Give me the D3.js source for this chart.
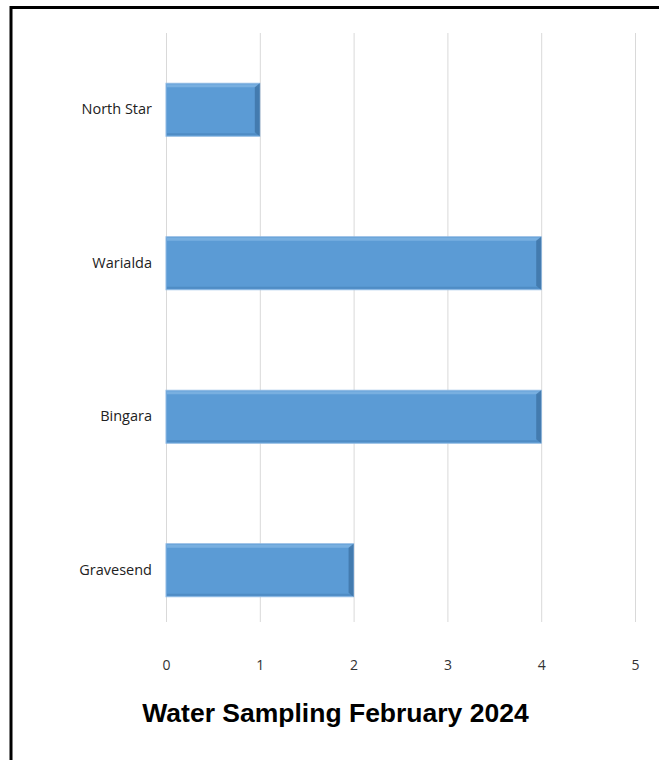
<!DOCTYPE html>
<html><head><meta charset="utf-8">
<script src="https://cdn.jsdelivr.net/npm/d3@7/dist/d3.min.js"></script>
<style>body{margin:0;background:#fff;}svg{display:block;}</style>
</head><body>
<svg id="c" width="659" height="760"></svg>
<script>
const categories = ["North Star","Warialda","Bingara","Gravesend"];
const values = [1,4,4,2];
const xTicks = [0,1,2,3,4,5];
const title = "Water Sampling February 2024";

const svg = d3.select("#c");
svg.append("rect").attr("width",659).attr("height",760).attr("fill","#fff");
// frame
svg.append("path").attr("d","M11,770 V7.5 H670").attr("fill","none").attr("stroke","#000").attr("stroke-width",3);

const x = d3.scaleLinear().domain([0,5]).range([166,635]);
const y = d3.scaleBand().domain(categories).range([33,647]).paddingInner(0.655).paddingOuter(0.3275);

// gridlines
svg.append("g").selectAll("line").data(xTicks).join("line")
  .attr("x1",d=>x(d)+0.5).attr("x2",d=>x(d)+0.5).attr("y1",33).attr("y2",622)
  .attr("stroke","#d9d9d9").attr("stroke-width",1);

// x axis labels
const xa = svg.append("g").attr("transform","translate(0,622)")
  .call(d3.axisBottom(x).tickValues(xTicks).tickFormat(d3.format("d")).tickSize(0).tickPadding(38));
xa.select(".domain").remove();
xa.selectAll("text").attr("font-family","'Open Sans', 'Liberation Sans', sans-serif").attr("font-size",14).attr("fill","#333");

// y axis labels
const ya = svg.append("g").attr("transform","translate(166,0)")
  .call(d3.axisLeft(y).tickSize(0).tickPadding(14));
ya.select(".domain").remove();
ya.selectAll("text").attr("font-family","'Open Sans', 'Liberation Sans', sans-serif").attr("font-size",14.5).attr("fill","#222");

// bars with bevel
const bars = svg.append("g").selectAll("g").data(categories).join("g");
bars.append("rect").attr("x",x(0)).attr("y",d=>y(d)).attr("width",(d,i)=>x(values[i])-x(0)).attr("height",y.bandwidth())
  .attr("fill","#5b9bd5").attr("stroke","#8fb9e3").attr("stroke-width",1);
bars.append("rect").attr("x",x(0)+1).attr("y",d=>y(d)+1).attr("width",(d,i)=>x(values[i])-x(0)-2).attr("height",3)
  .attr("fill","#78afe0");
bars.append("rect").attr("x",x(0)+1).attr("y",d=>y(d)+y.bandwidth()-3).attr("width",(d,i)=>x(values[i])-x(0)-2).attr("height",2)
  .attr("fill","#4f8cc4");
bars.append("path").attr("d",(d,i)=>{const r=x(values[i]), t=y(d), b=y(d)+y.bandwidth();
  return `M${r},${t} L${r},${b} L${r-5},${b-4} L${r-5},${t+4} Z`;}).attr("fill","#3f75a8").attr("opacity",0.85);

// title
svg.append("text").attr("x",335.5).attr("y",722).attr("text-anchor","middle")
  .attr("font-family","'Liberation Sans', Arial, sans-serif").attr("font-weight","bold").attr("font-size",26.5)
  .attr("fill","#000").text(title);
</script>
</body></html>
